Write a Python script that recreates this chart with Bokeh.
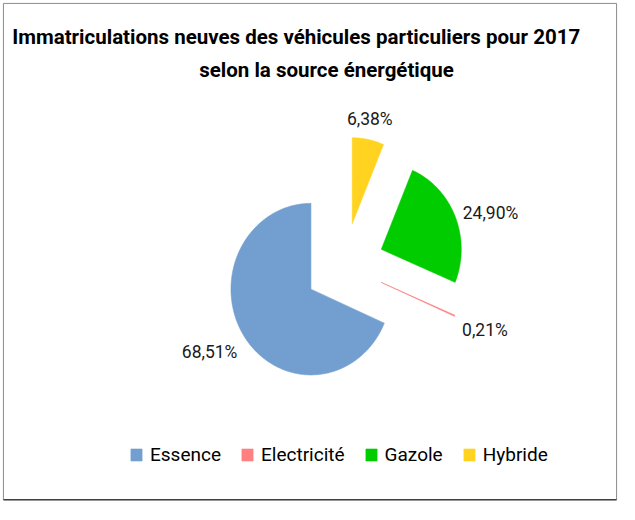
import numpy as np
from bokeh.plotting import figure
from bokeh.models import Range1d, Legend, LegendItem, ColumnDataSource
from bokeh.core.properties import value
from bokeh.embed import file_html
from bokeh.resources import INLINE

# ---- data ----
categories = ["Essence", "Electricité", "Gazole", "Hybride"]
shares = [68.51, 0.21, 24.90, 6.38]
colors = ["#729fcf", "#ff8080", "#00cc00", "#ffd320"]
title_lines = ["Immatriculations neuves des véhicules particuliers pour 2017",
               "selon la source énergétique"]

FONT = "Roboto"

# data space = 635 x 520 layout units, drawn into a 619 x 504 figure
W, H = 619, 504
p = figure(width=W, height=H, output_backend="svg", toolbar_location=None,
           x_range=Range1d(0, 635), y_range=Range1d(520, 0),
           min_border=0, background_fill_color="white", border_fill_color="white")
p.axis.visible = False
p.grid.visible = False
p.outline_line_color = None

# chart border
p.quad(left=[3], right=[632], top=[3], bottom=[515], fill_color=None,
       line_color="#8c8c8c", line_width=1)
p.segment(x0=[3], y0=[515], x1=[632], y1=[515], line_color="#404040", line_width=1.5)

# pie geometry (layout units)
cx, cy = 352.7, 273.5
rx, ry = 82.0, 88.5
explode = 0.5

vals = np.array(shares, dtype=float)
frac = vals / vals.sum()
ends = np.cumsum(frac) * 2 * np.pi
starts = ends - frac * 2 * np.pi

renderers = []
label_x, label_y, label_txt, halign, valign = [], [], [], [], []
for i, (a0, a1) in enumerate(zip(starts, ends)):
    am = 0.5 * (a0 + a1)
    dx, dy = -np.sin(am), -np.cos(am)  # counter-clockwise from 12 o'clock, y down
    ax = cx + explode * rx * dx
    ay = cy + explode * ry * dy
    n = max(2, int(np.degrees(a1 - a0) * 2))
    t = np.linspace(a0, a1, n)
    xs = np.concatenate([[ax], ax - rx * np.sin(t), [ax]])
    ys = np.concatenate([[ay], ay - ry * np.cos(t), [ay]])
    r = p.patch(xs, ys, fill_color=colors[i], line_color=colors[i], line_width=0.6)
    renderers.append(r)
    label_x.append(ax + 1.1 * rx * dx)
    label_y.append(ay + 1.13 * ry * dy)
    label_txt.append(f"{shares[i]:.2f}".replace(".", ",") + "%")
    halign.append("left" if dx > 0.3 else ("right" if dx < -0.3 else "center"))
    c = -dy
    valign.append("bottom" if c > 0.7 else ("top" if c < 0 else "middle"))

src = ColumnDataSource(dict(x=label_x, y=label_y, t=label_txt, a=halign, b=valign))
p.text(x="x", y="y", text="t", text_align="a", text_baseline="b", source=src,
       text_font=value(FONT), text_font_size="17.5px", text_color="#1a1a1a")

# title
p.text(x=[12], y=[38], text=[title_lines[0]], text_align="left", text_baseline="alphabetic",
       text_font=value(FONT), text_font_size="20.5px", text_font_style="bold", text_color="#000000")
p.text(x=[334.5], y=[72], text=[title_lines[1]], text_align="center", text_baseline="alphabetic",
       text_font=value(FONT), text_font_size="20.5px", text_font_style="bold", text_color="#000000")

legend = Legend(items=[LegendItem(label=categories[i], renderers=[renderers[i]]) for i in range(4)],
                orientation="horizontal", location=(129, 38),
                glyph_width=14, glyph_height=15, label_standoff=7, spacing=19,
                padding=0, margin=0, border_line_color=None, background_fill_alpha=0,
                label_text_font=FONT, label_text_font_size="19px", label_text_color="#000000")
p.add_layout(legend)

open("out.html", "w").write(file_html(p, INLINE))
